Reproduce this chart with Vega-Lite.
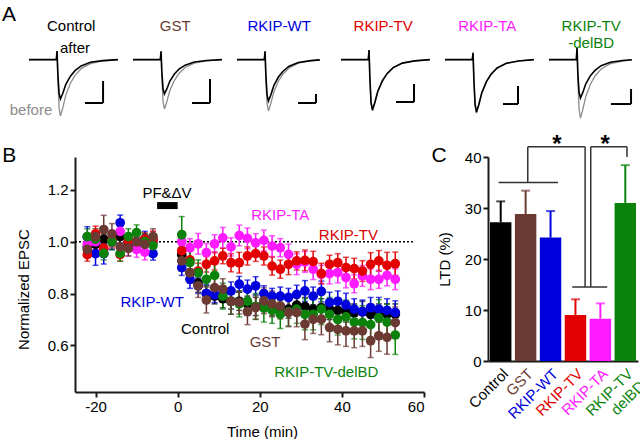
{
  "$schema": "https://vega.github.io/schema/vega-lite/v6.json",
  "padding": {"left": 2, "top": 3, "right": 0, "bottom": 0},
  "spacing": 12,
  "config": {
    "font": "Liberation Sans",
    "view": {"stroke": null},
    "legend": {"disable": true},
    "axis": {"grid": false, "domainColor": "#1a1a1a", "domainWidth": 2, "tickColor": "#1a1a1a", "tickWidth": 2, "tickSize": 5, "labelFontSize": 15, "labelColor": "#000000", "titleFontSize": 15, "titleFontWeight": "normal", "titleColor": "#000000", "labelFont": "Liberation Sans", "titleFont": "Liberation Sans"},
    "text": {"font": "Liberation Sans", "fontSize": 15}
  },
  "datasets": {
    "A": [
      {"c":"Control","k":"tr","s":"before","t":0,"v":0},{"c":"Control","k":"tr","s":"before","t":17.8,"v":0},{"c":"Control","k":"tr","s":"before","t":18.3,"v":0.154},{"c":"Control","k":"tr","s":"before","t":18.8,"v":-0.354},{"c":"Control","k":"tr","s":"before","t":19.6,"v":-0.859},{"c":"Control","k":"tr","s":"before","t":20.5,"v":-1.01},{"c":"Control","k":"tr","s":"before","t":22,"v":-0.869},{"c":"Control","k":"tr","s":"before","t":24,"v":-0.636},{"c":"Control","k":"tr","s":"before","t":27,"v":-0.424},{"c":"Control","k":"tr","s":"before","t":30,"v":-0.283},{"c":"Control","k":"tr","s":"before","t":34,"v":-0.162},{"c":"Control","k":"tr","s":"before","t":40,"v":-0.071},{"c":"Control","k":"tr","s":"before","t":48,"v":-0.025},{"c":"Control","k":"tr","s":"before","t":58,"v":0},
      {"c":"Control","k":"tr","s":"after","t":0,"v":0},{"c":"Control","k":"tr","s":"after","t":17.8,"v":0},{"c":"Control","k":"tr","s":"after","t":18.3,"v":0.154},{"c":"Control","k":"tr","s":"after","t":18.8,"v":-0.247},{"c":"Control","k":"tr","s":"after","t":19.6,"v":-0.6},{"c":"Control","k":"tr","s":"after","t":20.5,"v":-0.706},{"c":"Control","k":"tr","s":"after","t":22,"v":-0.607},{"c":"Control","k":"tr","s":"after","t":24,"v":-0.445},{"c":"Control","k":"tr","s":"after","t":27,"v":-0.297},{"c":"Control","k":"tr","s":"after","t":30,"v":-0.198},{"c":"Control","k":"tr","s":"after","t":34,"v":-0.113},{"c":"Control","k":"tr","s":"after","t":40,"v":-0.049},{"c":"Control","k":"tr","s":"after","t":48,"v":-0.018},{"c":"Control","k":"tr","s":"after","t":58,"v":0},
      {"c":"GST","k":"tr","s":"before","t":0,"v":0},{"c":"GST","k":"tr","s":"before","t":17.8,"v":0},{"c":"GST","k":"tr","s":"before","t":18.3,"v":0.15},{"c":"GST","k":"tr","s":"before","t":18.8,"v":-0.31},{"c":"GST","k":"tr","s":"before","t":19.6,"v":-0.752},{"c":"GST","k":"tr","s":"before","t":20.5,"v":-0.885},{"c":"GST","k":"tr","s":"before","t":22,"v":-0.761},{"c":"GST","k":"tr","s":"before","t":24,"v":-0.558},{"c":"GST","k":"tr","s":"before","t":27,"v":-0.372},{"c":"GST","k":"tr","s":"before","t":30,"v":-0.248},{"c":"GST","k":"tr","s":"before","t":34,"v":-0.142},{"c":"GST","k":"tr","s":"before","t":40,"v":-0.062},{"c":"GST","k":"tr","s":"before","t":48,"v":-0.022},{"c":"GST","k":"tr","s":"before","t":58,"v":0},
      {"c":"GST","k":"tr","s":"after","t":0,"v":0},{"c":"GST","k":"tr","s":"after","t":17.8,"v":0},{"c":"GST","k":"tr","s":"after","t":18.3,"v":0.15},{"c":"GST","k":"tr","s":"after","t":18.8,"v":-0.216},{"c":"GST","k":"tr","s":"after","t":19.6,"v":-0.524},{"c":"GST","k":"tr","s":"after","t":20.5,"v":-0.616},{"c":"GST","k":"tr","s":"after","t":22,"v":-0.53},{"c":"GST","k":"tr","s":"after","t":24,"v":-0.388},{"c":"GST","k":"tr","s":"after","t":27,"v":-0.259},{"c":"GST","k":"tr","s":"after","t":30,"v":-0.172},{"c":"GST","k":"tr","s":"after","t":34,"v":-0.099},{"c":"GST","k":"tr","s":"after","t":40,"v":-0.043},{"c":"GST","k":"tr","s":"after","t":48,"v":-0.015},{"c":"GST","k":"tr","s":"after","t":58,"v":0},
      {"c":"RKIP-WT","k":"tr","s":"before","t":0,"v":0},{"c":"RKIP-WT","k":"tr","s":"before","t":17.8,"v":0},{"c":"RKIP-WT","k":"tr","s":"before","t":18.3,"v":0.15},{"c":"RKIP-WT","k":"tr","s":"before","t":18.8,"v":-0.322},{"c":"RKIP-WT","k":"tr","s":"before","t":19.6,"v":-0.783},{"c":"RKIP-WT","k":"tr","s":"before","t":20.5,"v":-0.921},{"c":"RKIP-WT","k":"tr","s":"before","t":22,"v":-0.792},{"c":"RKIP-WT","k":"tr","s":"before","t":24,"v":-0.58},{"c":"RKIP-WT","k":"tr","s":"before","t":27,"v":-0.387},{"c":"RKIP-WT","k":"tr","s":"before","t":30,"v":-0.258},{"c":"RKIP-WT","k":"tr","s":"before","t":34,"v":-0.147},{"c":"RKIP-WT","k":"tr","s":"before","t":40,"v":-0.064},{"c":"RKIP-WT","k":"tr","s":"before","t":48,"v":-0.023},{"c":"RKIP-WT","k":"tr","s":"before","t":54,"v":-0.006},
      {"c":"RKIP-WT","k":"tr","s":"after","t":0,"v":0},{"c":"RKIP-WT","k":"tr","s":"after","t":17.8,"v":0},{"c":"RKIP-WT","k":"tr","s":"after","t":18.3,"v":0.15},{"c":"RKIP-WT","k":"tr","s":"after","t":18.8,"v":-0.26},{"c":"RKIP-WT","k":"tr","s":"after","t":19.6,"v":-0.631},{"c":"RKIP-WT","k":"tr","s":"after","t":20.5,"v":-0.742},{"c":"RKIP-WT","k":"tr","s":"after","t":22,"v":-0.638},{"c":"RKIP-WT","k":"tr","s":"after","t":24,"v":-0.467},{"c":"RKIP-WT","k":"tr","s":"after","t":27,"v":-0.312},{"c":"RKIP-WT","k":"tr","s":"after","t":30,"v":-0.208},{"c":"RKIP-WT","k":"tr","s":"after","t":34,"v":-0.119},{"c":"RKIP-WT","k":"tr","s":"after","t":40,"v":-0.052},{"c":"RKIP-WT","k":"tr","s":"after","t":48,"v":-0.019},{"c":"RKIP-WT","k":"tr","s":"after","t":54,"v":-0.005},
      {"c":"RKIP-TV","k":"tr","s":"before","t":0,"v":0},{"c":"RKIP-TV","k":"tr","s":"before","t":17.8,"v":0},{"c":"RKIP-TV","k":"tr","s":"before","t":18.3,"v":0.17},{"c":"RKIP-TV","k":"tr","s":"before","t":18.8,"v":-0.322},{"c":"RKIP-TV","k":"tr","s":"before","t":19.6,"v":-0.783},{"c":"RKIP-TV","k":"tr","s":"before","t":20.5,"v":-0.921},{"c":"RKIP-TV","k":"tr","s":"before","t":22,"v":-0.792},{"c":"RKIP-TV","k":"tr","s":"before","t":24,"v":-0.58},{"c":"RKIP-TV","k":"tr","s":"before","t":27,"v":-0.387},{"c":"RKIP-TV","k":"tr","s":"before","t":30,"v":-0.258},{"c":"RKIP-TV","k":"tr","s":"before","t":34,"v":-0.147},{"c":"RKIP-TV","k":"tr","s":"before","t":40,"v":-0.064},{"c":"RKIP-TV","k":"tr","s":"before","t":48,"v":-0.023},{"c":"RKIP-TV","k":"tr","s":"before","t":58,"v":0},
      {"c":"RKIP-TV","k":"tr","s":"after","t":0,"v":0},{"c":"RKIP-TV","k":"tr","s":"after","t":17.8,"v":0},{"c":"RKIP-TV","k":"tr","s":"after","t":18.3,"v":0.17},{"c":"RKIP-TV","k":"tr","s":"after","t":18.8,"v":-0.315},{"c":"RKIP-TV","k":"tr","s":"after","t":19.6,"v":-0.765},{"c":"RKIP-TV","k":"tr","s":"after","t":20.5,"v":-0.9},{"c":"RKIP-TV","k":"tr","s":"after","t":22,"v":-0.774},{"c":"RKIP-TV","k":"tr","s":"after","t":24,"v":-0.567},{"c":"RKIP-TV","k":"tr","s":"after","t":27,"v":-0.378},{"c":"RKIP-TV","k":"tr","s":"after","t":30,"v":-0.252},{"c":"RKIP-TV","k":"tr","s":"after","t":34,"v":-0.144},{"c":"RKIP-TV","k":"tr","s":"after","t":40,"v":-0.063},{"c":"RKIP-TV","k":"tr","s":"after","t":48,"v":-0.023},{"c":"RKIP-TV","k":"tr","s":"after","t":58,"v":0},
      {"c":"RKIP-TA","k":"tr","s":"before","t":0,"v":0},{"c":"RKIP-TA","k":"tr","s":"before","t":17.8,"v":0},{"c":"RKIP-TA","k":"tr","s":"before","t":18.3,"v":0.12},{"c":"RKIP-TA","k":"tr","s":"before","t":18.8,"v":-0.335},{"c":"RKIP-TA","k":"tr","s":"before","t":19.6,"v":-0.813},{"c":"RKIP-TA","k":"tr","s":"before","t":20.5,"v":-0.957},{"c":"RKIP-TA","k":"tr","s":"before","t":22,"v":-0.823},{"c":"RKIP-TA","k":"tr","s":"before","t":24,"v":-0.603},{"c":"RKIP-TA","k":"tr","s":"before","t":27,"v":-0.402},{"c":"RKIP-TA","k":"tr","s":"before","t":30,"v":-0.268},{"c":"RKIP-TA","k":"tr","s":"before","t":34,"v":-0.153},{"c":"RKIP-TA","k":"tr","s":"before","t":40,"v":-0.067},{"c":"RKIP-TA","k":"tr","s":"before","t":48,"v":-0.024},{"c":"RKIP-TA","k":"tr","s":"before","t":58,"v":0},
      {"c":"RKIP-TA","k":"tr","s":"after","t":0,"v":0},{"c":"RKIP-TA","k":"tr","s":"after","t":17.8,"v":0},{"c":"RKIP-TA","k":"tr","s":"after","t":18.3,"v":0.12},{"c":"RKIP-TA","k":"tr","s":"after","t":18.8,"v":-0.329},{"c":"RKIP-TA","k":"tr","s":"after","t":19.6,"v":-0.799},{"c":"RKIP-TA","k":"tr","s":"after","t":20.5,"v":-0.94},{"c":"RKIP-TA","k":"tr","s":"after","t":22,"v":-0.808},{"c":"RKIP-TA","k":"tr","s":"after","t":24,"v":-0.592},{"c":"RKIP-TA","k":"tr","s":"after","t":27,"v":-0.395},{"c":"RKIP-TA","k":"tr","s":"after","t":30,"v":-0.263},{"c":"RKIP-TA","k":"tr","s":"after","t":34,"v":-0.15},{"c":"RKIP-TA","k":"tr","s":"after","t":40,"v":-0.066},{"c":"RKIP-TA","k":"tr","s":"after","t":48,"v":-0.024},{"c":"RKIP-TA","k":"tr","s":"after","t":58,"v":0},
      {"c":"RKIP-TV-delBD","k":"tr","s":"before","t":0,"v":0},{"c":"RKIP-TV-delBD","k":"tr","s":"before","t":17.8,"v":0},{"c":"RKIP-TV-delBD","k":"tr","s":"before","t":18.3,"v":0.21},{"c":"RKIP-TV-delBD","k":"tr","s":"before","t":18.8,"v":-0.366},{"c":"RKIP-TV-delBD","k":"tr","s":"before","t":19.6,"v":-0.89},{"c":"RKIP-TV-delBD","k":"tr","s":"before","t":20.5,"v":-1.047},{"c":"RKIP-TV-delBD","k":"tr","s":"before","t":22,"v":-0.9},{"c":"RKIP-TV-delBD","k":"tr","s":"before","t":24,"v":-0.66},{"c":"RKIP-TV-delBD","k":"tr","s":"before","t":27,"v":-0.44},{"c":"RKIP-TV-delBD","k":"tr","s":"before","t":30,"v":-0.293},{"c":"RKIP-TV-delBD","k":"tr","s":"before","t":34,"v":-0.168},{"c":"RKIP-TV-delBD","k":"tr","s":"before","t":40,"v":-0.073},{"c":"RKIP-TV-delBD","k":"tr","s":"before","t":48,"v":-0.026},{"c":"RKIP-TV-delBD","k":"tr","s":"before","t":54,"v":-0.006},
      {"c":"RKIP-TV-delBD","k":"tr","s":"after","t":0,"v":0},{"c":"RKIP-TV-delBD","k":"tr","s":"after","t":17.8,"v":0},{"c":"RKIP-TV-delBD","k":"tr","s":"after","t":18.3,"v":0.21},{"c":"RKIP-TV-delBD","k":"tr","s":"after","t":18.8,"v":-0.241},{"c":"RKIP-TV-delBD","k":"tr","s":"after","t":19.6,"v":-0.585},{"c":"RKIP-TV-delBD","k":"tr","s":"after","t":20.5,"v":-0.688},{"c":"RKIP-TV-delBD","k":"tr","s":"after","t":22,"v":-0.592},{"c":"RKIP-TV-delBD","k":"tr","s":"after","t":24,"v":-0.433},{"c":"RKIP-TV-delBD","k":"tr","s":"after","t":27,"v":-0.289},{"c":"RKIP-TV-delBD","k":"tr","s":"after","t":30,"v":-0.193},{"c":"RKIP-TV-delBD","k":"tr","s":"after","t":34,"v":-0.11},{"c":"RKIP-TV-delBD","k":"tr","s":"after","t":40,"v":-0.048},{"c":"RKIP-TV-delBD","k":"tr","s":"after","t":48,"v":-0.017},{"c":"RKIP-TV-delBD","k":"tr","s":"after","t":54,"v":-0.004},
      {"c":"Control","k":"bar","t":48.3,"t2":48.3,"v":-0.384,"v2":-0.778},{"c":"Control","k":"bar","t":36.5,"t2":48.3,"v":-0.778,"v2":-0.778},
      {"c":"GST","k":"bar","t":50.2,"t2":50.2,"v":-0.348,"v2":-0.778},{"c":"GST","k":"bar","t":38.5,"t2":50.2,"v":-0.778,"v2":-0.778},
      {"c":"RKIP-WT","k":"bar","t":51.5,"t2":51.5,"v":-0.616,"v2":-0.778},{"c":"RKIP-WT","k":"bar","t":39.8,"t2":51.5,"v":-0.778,"v2":-0.778},
      {"c":"RKIP-TV","k":"bar","t":47.6,"t2":47.6,"v":-0.437,"v2":-0.76},{"c":"RKIP-TV","k":"bar","t":35.9,"t2":47.6,"v":-0.76,"v2":-0.76},
      {"c":"RKIP-TA","k":"bar","t":47.6,"t2":47.6,"v":-0.473,"v2":-0.796},{"c":"RKIP-TA","k":"bar","t":37.8,"t2":47.6,"v":-0.796,"v2":-0.796},
      {"c":"RKIP-TV-delBD","k":"bar","t":53.5,"t2":53.5,"v":-0.527,"v2":-0.796},{"c":"RKIP-TV-delBD","k":"bar","t":40.4,"t2":53.5,"v":-0.796,"v2":-0.796},
      {"c":"Control","k":"ti","label":"Control"},{"c":"GST","k":"ti","label":"GST"},{"c":"RKIP-WT","k":"ti","label":"RKIP-WT"},{"c":"RKIP-TV","k":"ti","label":"RKIP-TV"},{"c":"RKIP-TA","k":"ti","label":"RKIP-TA"},{"c":"RKIP-TV-delBD","k":"ti","label":"RKIP-TV\n-delBD"},
      {"c":"Control","k":"after","label":"after"},{"c":"Control","k":"before","label":"before"},{"c":"Control","k":"A","label":"A"}
    ],
    "B": [
      {"g":"Control","t":-22,"v":0.98,"se":0.02},{"g":"Control","t":-20,"v":0.99,"se":0.025},{"g":"Control","t":-18,"v":1.01,"se":0.02},{"g":"Control","t":-16,"v":1.0,"se":0.03},{"g":"Control","t":-14,"v":1.02,"se":0.025},{"g":"Control","t":-12,"v":0.99,"se":0.02},{"g":"Control","t":-10,"v":1.0,"se":0.03},{"g":"Control","t":-8,"v":1.01,"se":0.02},{"g":"Control","t":-6,"v":1.0,"se":0.025},
      {"g":"Control","t":1,"v":0.95,"se":0.03},{"g":"Control","t":3,"v":0.88,"se":0.03},{"g":"Control","t":5,"v":0.84,"se":0.035},{"g":"Control","t":7,"v":0.8,"se":0.03},{"g":"Control","t":9,"v":0.79,"se":0.03},{"g":"Control","t":11,"v":0.78,"se":0.035},{"g":"Control","t":13,"v":0.77,"se":0.03},{"g":"Control","t":15,"v":0.77,"se":0.035},{"g":"Control","t":17,"v":0.76,"se":0.03},{"g":"Control","t":19,"v":0.75,"se":0.035},{"g":"Control","t":21,"v":0.76,"se":0.03},{"g":"Control","t":23,"v":0.75,"se":0.035},{"g":"Control","t":25,"v":0.745,"se":0.03},{"g":"Control","t":27,"v":0.74,"se":0.035},{"g":"Control","t":29,"v":0.755,"se":0.03},{"g":"Control","t":31,"v":0.75,"se":0.035},{"g":"Control","t":33,"v":0.74,"se":0.04},{"g":"Control","t":35,"v":0.745,"se":0.035},{"g":"Control","t":37,"v":0.74,"se":0.04},{"g":"Control","t":39,"v":0.735,"se":0.035},{"g":"Control","t":41,"v":0.73,"se":0.04},{"g":"Control","t":43,"v":0.725,"se":0.035},{"g":"Control","t":45,"v":0.73,"se":0.04},{"g":"Control","t":47,"v":0.72,"se":0.04},{"g":"Control","t":49,"v":0.725,"se":0.035},{"g":"Control","t":51,"v":0.72,"se":0.04},{"g":"Control","t":53,"v":0.72,"se":0.04},
      {"g":"RKIP-WT","t":-22,"v":1.018,"se":0.04},{"g":"RKIP-WT","t":-20,"v":0.954,"se":0.045},{"g":"RKIP-WT","t":-18,"v":0.954,"se":0.04},{"g":"RKIP-WT","t":-16,"v":1.0,"se":0.03},{"g":"RKIP-WT","t":-14,"v":1.073,"se":0.03},{"g":"RKIP-WT","t":-12,"v":1.0,"se":0.03},{"g":"RKIP-WT","t":-10,"v":0.99,"se":0.03},{"g":"RKIP-WT","t":-8,"v":1.01,"se":0.03},{"g":"RKIP-WT","t":-6,"v":0.954,"se":0.025},
      {"g":"RKIP-WT","t":1,"v":0.9,"se":0.03},{"g":"RKIP-WT","t":3,"v":0.855,"se":0.035},{"g":"RKIP-WT","t":5,"v":0.83,"se":0.03},{"g":"RKIP-WT","t":7,"v":0.8,"se":0.035},{"g":"RKIP-WT","t":9,"v":0.795,"se":0.03},{"g":"RKIP-WT","t":11,"v":0.8,"se":0.03},{"g":"RKIP-WT","t":13,"v":0.81,"se":0.035},{"g":"RKIP-WT","t":15,"v":0.836,"se":0.03},{"g":"RKIP-WT","t":17,"v":0.817,"se":0.035},{"g":"RKIP-WT","t":19,"v":0.83,"se":0.035},{"g":"RKIP-WT","t":21,"v":0.8,"se":0.03},{"g":"RKIP-WT","t":23,"v":0.79,"se":0.03},{"g":"RKIP-WT","t":25,"v":0.79,"se":0.035},{"g":"RKIP-WT","t":27,"v":0.785,"se":0.035},{"g":"RKIP-WT","t":29,"v":0.797,"se":0.035},{"g":"RKIP-WT","t":31,"v":0.81,"se":0.04},{"g":"RKIP-WT","t":33,"v":0.79,"se":0.035},{"g":"RKIP-WT","t":35,"v":0.808,"se":0.04},{"g":"RKIP-WT","t":37,"v":0.765,"se":0.04},{"g":"RKIP-WT","t":39,"v":0.77,"se":0.04},{"g":"RKIP-WT","t":41,"v":0.756,"se":0.045},{"g":"RKIP-WT","t":43,"v":0.74,"se":0.04},{"g":"RKIP-WT","t":45,"v":0.73,"se":0.045},{"g":"RKIP-WT","t":47,"v":0.745,"se":0.04},{"g":"RKIP-WT","t":49,"v":0.74,"se":0.045},{"g":"RKIP-WT","t":51,"v":0.735,"se":0.045},{"g":"RKIP-WT","t":53,"v":0.727,"se":0.045},
      {"g":"RKIP-TA","t":-22,"v":0.99,"se":0.03},{"g":"RKIP-TA","t":-20,"v":1.0,"se":0.03},{"g":"RKIP-TA","t":-18,"v":0.97,"se":0.03},{"g":"RKIP-TA","t":-16,"v":1.0,"se":0.025},{"g":"RKIP-TA","t":-14,"v":1.04,"se":0.03},{"g":"RKIP-TA","t":-12,"v":0.975,"se":0.03},{"g":"RKIP-TA","t":-10,"v":0.97,"se":0.03},{"g":"RKIP-TA","t":-8,"v":0.96,"se":0.03},{"g":"RKIP-TA","t":-6,"v":1.005,"se":0.035},
      {"g":"RKIP-TA","t":1,"v":1.0,"se":0.04},{"g":"RKIP-TA","t":3,"v":0.977,"se":0.035},{"g":"RKIP-TA","t":5,"v":0.992,"se":0.04},{"g":"RKIP-TA","t":7,"v":0.958,"se":0.035},{"g":"RKIP-TA","t":9,"v":0.992,"se":0.035},{"g":"RKIP-TA","t":11,"v":1.015,"se":0.04},{"g":"RKIP-TA","t":13,"v":0.98,"se":0.035},{"g":"RKIP-TA","t":15,"v":1.024,"se":0.04},{"g":"RKIP-TA","t":17,"v":1.013,"se":0.04},{"g":"RKIP-TA","t":19,"v":0.996,"se":0.035},{"g":"RKIP-TA","t":21,"v":1.005,"se":0.04},{"g":"RKIP-TA","t":23,"v":0.983,"se":0.04},{"g":"RKIP-TA","t":25,"v":0.977,"se":0.035},{"g":"RKIP-TA","t":27,"v":0.951,"se":0.04},{"g":"RKIP-TA","t":29,"v":0.913,"se":0.04},{"g":"RKIP-TA","t":31,"v":0.922,"se":0.04},{"g":"RKIP-TA","t":33,"v":0.894,"se":0.04},{"g":"RKIP-TA","t":35,"v":0.874,"se":0.035},{"g":"RKIP-TA","t":37,"v":0.877,"se":0.04},{"g":"RKIP-TA","t":39,"v":0.881,"se":0.04},{"g":"RKIP-TA","t":41,"v":0.862,"se":0.04},{"g":"RKIP-TA","t":43,"v":0.838,"se":0.035},{"g":"RKIP-TA","t":45,"v":0.868,"se":0.04},{"g":"RKIP-TA","t":47,"v":0.855,"se":0.04},{"g":"RKIP-TA","t":49,"v":0.855,"se":0.035},{"g":"RKIP-TA","t":51,"v":0.87,"se":0.04},{"g":"RKIP-TA","t":53,"v":0.855,"se":0.04},
      {"g":"RKIP-TV","t":-22,"v":0.95,"se":0.025},{"g":"RKIP-TV","t":-20,"v":1.03,"se":0.03},{"g":"RKIP-TV","t":-18,"v":0.975,"se":0.03},{"g":"RKIP-TV","t":-16,"v":1.005,"se":0.025},{"g":"RKIP-TV","t":-14,"v":0.95,"se":0.025},{"g":"RKIP-TV","t":-12,"v":1.0,"se":0.02},{"g":"RKIP-TV","t":-10,"v":1.0,"se":0.02},{"g":"RKIP-TV","t":-8,"v":1.01,"se":0.025},{"g":"RKIP-TV","t":-6,"v":1.01,"se":0.03},
      {"g":"RKIP-TV","t":1,"v":0.965,"se":0.03},{"g":"RKIP-TV","t":3,"v":0.93,"se":0.035},{"g":"RKIP-TV","t":5,"v":0.887,"se":0.03},{"g":"RKIP-TV","t":7,"v":0.913,"se":0.03},{"g":"RKIP-TV","t":9,"v":0.926,"se":0.035},{"g":"RKIP-TV","t":11,"v":0.945,"se":0.03},{"g":"RKIP-TV","t":13,"v":0.919,"se":0.035},{"g":"RKIP-TV","t":15,"v":0.919,"se":0.04},{"g":"RKIP-TV","t":17,"v":0.945,"se":0.035},{"g":"RKIP-TV","t":19,"v":0.954,"se":0.03},{"g":"RKIP-TV","t":21,"v":0.945,"se":0.035},{"g":"RKIP-TV","t":23,"v":0.906,"se":0.035},{"g":"RKIP-TV","t":25,"v":0.894,"se":0.035},{"g":"RKIP-TV","t":27,"v":0.913,"se":0.04},{"g":"RKIP-TV","t":29,"v":0.926,"se":0.035},{"g":"RKIP-TV","t":31,"v":0.928,"se":0.04},{"g":"RKIP-TV","t":33,"v":0.923,"se":0.04},{"g":"RKIP-TV","t":35,"v":0.877,"se":0.04},{"g":"RKIP-TV","t":37,"v":0.913,"se":0.035},{"g":"RKIP-TV","t":39,"v":0.919,"se":0.035},{"g":"RKIP-TV","t":41,"v":0.9,"se":0.04},{"g":"RKIP-TV","t":43,"v":0.896,"se":0.04},{"g":"RKIP-TV","t":45,"v":0.887,"se":0.04},{"g":"RKIP-TV","t":47,"v":0.913,"se":0.045},{"g":"RKIP-TV","t":49,"v":0.926,"se":0.04},{"g":"RKIP-TV","t":51,"v":0.909,"se":0.05},{"g":"RKIP-TV","t":53,"v":0.915,"se":0.045},
      {"g":"RKIP-TV-delBD","t":-22,"v":1.02,"se":0.03},{"g":"RKIP-TV-delBD","t":-20,"v":1.01,"se":0.03},{"g":"RKIP-TV-delBD","t":-18,"v":0.955,"se":0.025},{"g":"RKIP-TV-delBD","t":-16,"v":1.0,"se":0.03},{"g":"RKIP-TV-delBD","t":-14,"v":0.955,"se":0.03},{"g":"RKIP-TV-delBD","t":-12,"v":1.02,"se":0.03},{"g":"RKIP-TV-delBD","t":-10,"v":1.035,"se":0.03},{"g":"RKIP-TV-delBD","t":-8,"v":1.0,"se":0.03},{"g":"RKIP-TV-delBD","t":-6,"v":0.985,"se":0.03},
      {"g":"RKIP-TV-delBD","t":1,"v":1.027,"se":0.07},{"g":"RKIP-TV-delBD","t":3,"v":0.92,"se":0.05},{"g":"RKIP-TV-delBD","t":5,"v":0.88,"se":0.05},{"g":"RKIP-TV-delBD","t":7,"v":0.855,"se":0.045},{"g":"RKIP-TV-delBD","t":9,"v":0.87,"se":0.045},{"g":"RKIP-TV-delBD","t":11,"v":0.79,"se":0.05},{"g":"RKIP-TV-delBD","t":13,"v":0.77,"se":0.05},{"g":"RKIP-TV-delBD","t":15,"v":0.76,"se":0.05},{"g":"RKIP-TV-delBD","t":17,"v":0.77,"se":0.05},{"g":"RKIP-TV-delBD","t":19,"v":0.75,"se":0.05},{"g":"RKIP-TV-delBD","t":21,"v":0.745,"se":0.055},{"g":"RKIP-TV-delBD","t":23,"v":0.735,"se":0.05},{"g":"RKIP-TV-delBD","t":25,"v":0.72,"se":0.055},{"g":"RKIP-TV-delBD","t":27,"v":0.73,"se":0.055},{"g":"RKIP-TV-delBD","t":29,"v":0.74,"se":0.055},{"g":"RKIP-TV-delBD","t":31,"v":0.72,"se":0.06},{"g":"RKIP-TV-delBD","t":33,"v":0.72,"se":0.06},{"g":"RKIP-TV-delBD","t":35,"v":0.74,"se":0.06},{"g":"RKIP-TV-delBD","t":37,"v":0.72,"se":0.065},{"g":"RKIP-TV-delBD","t":39,"v":0.7,"se":0.06},{"g":"RKIP-TV-delBD","t":41,"v":0.71,"se":0.065},{"g":"RKIP-TV-delBD","t":43,"v":0.69,"se":0.065},{"g":"RKIP-TV-delBD","t":45,"v":0.688,"se":0.065},{"g":"RKIP-TV-delBD","t":47,"v":0.68,"se":0.07},{"g":"RKIP-TV-delBD","t":49,"v":0.706,"se":0.07},{"g":"RKIP-TV-delBD","t":51,"v":0.69,"se":0.07},{"g":"RKIP-TV-delBD","t":53,"v":0.64,"se":0.075},
      {"g":"GST","t":-22,"v":0.97,"se":0.03},{"g":"GST","t":-20,"v":1.02,"se":0.03},{"g":"GST","t":-18,"v":1.047,"se":0.055},{"g":"GST","t":-16,"v":1.03,"se":0.04},{"g":"GST","t":-14,"v":0.98,"se":0.03},{"g":"GST","t":-12,"v":0.975,"se":0.03},{"g":"GST","t":-10,"v":1.0,"se":0.035},{"g":"GST","t":-8,"v":0.99,"se":0.03},{"g":"GST","t":-6,"v":1.02,"se":0.03},
      {"g":"GST","t":1,"v":0.926,"se":0.04},{"g":"GST","t":3,"v":0.88,"se":0.04},{"g":"GST","t":5,"v":0.83,"se":0.045},{"g":"GST","t":7,"v":0.775,"se":0.05},{"g":"GST","t":9,"v":0.823,"se":0.045},{"g":"GST","t":11,"v":0.817,"se":0.04},{"g":"GST","t":13,"v":0.77,"se":0.05},{"g":"GST","t":15,"v":0.766,"se":0.045},{"g":"GST","t":17,"v":0.73,"se":0.05},{"g":"GST","t":19,"v":0.746,"se":0.045},{"g":"GST","t":21,"v":0.772,"se":0.05},{"g":"GST","t":23,"v":0.76,"se":0.05},{"g":"GST","t":25,"v":0.752,"se":0.05},{"g":"GST","t":27,"v":0.727,"se":0.055},{"g":"GST","t":29,"v":0.727,"se":0.055},{"g":"GST","t":31,"v":0.682,"se":0.06},{"g":"GST","t":33,"v":0.701,"se":0.055},{"g":"GST","t":35,"v":0.701,"se":0.06},{"g":"GST","t":37,"v":0.669,"se":0.055},{"g":"GST","t":39,"v":0.662,"se":0.06},{"g":"GST","t":41,"v":0.656,"se":0.06},{"g":"GST","t":43,"v":0.656,"se":0.065},{"g":"GST","t":45,"v":0.656,"se":0.06},{"g":"GST","t":47,"v":0.618,"se":0.065},{"g":"GST","t":49,"v":0.637,"se":0.06},{"g":"GST","t":51,"v":0.631,"se":0.065},{"g":"GST","t":53,"v":0.688,"se":0.06}
    ],
    "C": [
      {"g":"Control","ltd":27.2,"hi":31.3},
      {"g":"GST","ltd":28.8,"hi":33.4},
      {"g":"RKIP-WT","ltd":24.2,"hi":29.4},
      {"g":"RKIP-TV","ltd":9.0,"hi":12.1},
      {"g":"RKIP-TA","ltd":8.3,"hi":11.3},
      {"g":"RKIP-TV-delBD","ltd":31.0,"hi":38.4}
    ],
    "one": [{}]
  },
  "vconcat": [
    {
      "data": {"name": "A"},
      "facet": {"column": {"field": "c", "type": "nominal", "sort": ["Control","GST","RKIP-WT","RKIP-TV","RKIP-TA","RKIP-TV-delBD"], "header": {"labels": false, "title": null}}},
      "spacing": 12,
      "bounds": "flush",
      "spec": {
        "width": 92,
        "height": 115,
        "layer": [
          {
            "transform": [{"filter": "datum.k === 'tr' && datum.s === 'before'"}],
            "mark": {"type": "line", "color": "#8c8c8c", "strokeWidth": 1.3},
            "encoding": {
              "x": {"field": "t", "type": "quantitative", "scale": {"domain": [30, 90], "nice": false, "zero": false}, "axis": null},
              "y": {"field": "v", "type": "quantitative", "scale": {"domain": [-1.1, 0.96], "nice": false, "zero": false}, "axis": null}
            }
          },
          {
            "transform": [{"filter": "datum.k === 'tr' && datum.s === 'after'"}],
            "mark": {"type": "line", "color": "#000000", "strokeWidth": 1.6},
            "encoding": {
              "x": {"field": "t", "type": "quantitative", "scale": {"domain": [30, 90], "nice": false, "zero": false}, "axis": null},
              "y": {"field": "v", "type": "quantitative", "scale": {"domain": [-1.1, 0.96], "nice": false, "zero": false}, "axis": null}
            }
          },
          {
            "transform": [{"filter": "datum.k === 'bar'"}],
            "mark": {"type": "rule", "color": "#000000", "strokeWidth": 2},
            "encoding": {
              "x": {"field": "t", "type": "quantitative", "scale": {"domain": [30, 90], "nice": false, "zero": false}, "axis": null},
              "x2": {"field": "t2"},
              "y": {"field": "v", "type": "quantitative", "scale": {"domain": [-1.1, 0.96], "nice": false, "zero": false}, "axis": null},
              "y2": {"field": "v2"}
            }
          },
          {
            "transform": [{"filter": "datum.k === 'ti'"}],
            "mark": {"type": "text", "fontSize": 15, "baseline": "middle", "lineBreak": "\n", "align": "center"},
            "encoding": {
              "x": {"datum": 27.5, "type": "quantitative", "scale": {"domain": [30, 90], "nice": false, "zero": false}, "axis": null},
              "y": {"datum": 0.6, "type": "quantitative", "scale": {"domain": [-1.1, 0.96], "nice": false, "zero": false}, "axis": null},
              "text": {"field": "label"},
              "color": {"field": "c", "type": "nominal", "scale": {"domain": ["Control","GST","RKIP-WT","RKIP-TV","RKIP-TA","RKIP-TV-delBD"], "range": ["#000000","#6b3b33","#0000dd","#e20000","#ff1aff","#0b830b"]}, "legend": null}
            }
          },
          {
            "transform": [{"filter": "datum.k === 'after'"}],
            "mark": {"type": "text", "fontSize": 15, "baseline": "middle", "color": "#000000"},
            "encoding": {"x": {"datum": 30, "type": "quantitative"}, "y": {"datum": 0.208, "type": "quantitative"}, "text": {"field": "label"}}
          },
          {
            "transform": [{"filter": "datum.k === 'before'"}],
            "mark": {"type": "text", "fontSize": 15, "baseline": "middle", "color": "#8c8c8c"},
            "encoding": {"x": {"datum": 1.3, "type": "quantitative"}, "y": {"datum": -0.905, "type": "quantitative"}, "text": {"field": "label"}}
          },
          {
            "transform": [{"filter": "datum.k === 'A'"}],
            "mark": {"type": "text", "fontSize": 21, "baseline": "middle", "align": "left", "color": "#000000"},
            "encoding": {"x": {"datum": -17.6, "type": "quantitative"}, "y": {"datum": 0.8, "type": "quantitative"}, "text": {"field": "label"}}
          }
        ]
      }
    },
    {
      "hconcat": [
        {
          "width": 349,
          "height": 235,
          "layer": [
            {
              "data": {"name": "one"},
              "mark": {"type": "rule", "strokeDash": [2, 2], "strokeWidth": 1.5, "color": "#000000"},
              "encoding": {"x": {"datum": -25, "type": "quantitative"}, "x2": {"datum": 57.3}, "y": {"datum": 1, "type": "quantitative"}}
            },
            {
              "data": {"name": "one"},
              "mark": {"type": "rect", "color": "#000000"},
              "encoding": {"x": {"datum": -5, "type": "quantitative"}, "x2": {"datum": 0}, "y": {"datum": 1.126, "type": "quantitative"}, "y2": {"datum": 1.153}}
            },
            {
              "data": {"name": "one"},
              "mark": {"type": "text", "text": "PF&ΔV", "fontSize": 15, "baseline": "middle", "color": "#000000"},
              "encoding": {"x": {"datum": -2.6, "type": "quantitative"}, "y": {"datum": 1.188, "type": "quantitative"}}
            },
            {
              "data": {"name": "B"},
              "mark": {"type": "errorbar", "ticks": {"thickness": 1.5}, "thickness": 1.5, "size": 6},
              "encoding": {
                "x": {"field": "t", "type": "quantitative", "title": "Time (min)"},
                "y": {"field": "v", "type": "quantitative", "title": "Normalized EPSC"},
                "yError": {"field": "se"},
                "color": {"field": "g", "type": "nominal", "scale": {"domain": ["Control","GST","RKIP-WT","RKIP-TV","RKIP-TA","RKIP-TV-delBD"], "range": ["#000000","#6b3b33","#0000dd","#e20000","#ff1aff","#0b830b"]}, "legend": null}
              }
            },
            {
              "data": {"name": "B"},
              "mark": {"type": "circle", "size": 95, "opacity": 1},
              "encoding": {
                "x": {"field": "t", "type": "quantitative", "title": "Time (min)", "scale": {"domain": [-25, 60], "nice": false}, "axis": {"values": [-20, 0, 20, 40, 60], "labelExpr": "'' + datum.value", "titlePadding": 10, "titleX": 187}},
                "y": {"field": "v", "type": "quantitative", "title": "Normalized EPSC", "scale": {"domain": [0.42, 1.327], "nice": false, "zero": false}, "axis": {"values": [0.6, 0.8, 1.0, 1.2], "format": ".1f", "titlePadding": 16, "titleY": 132}},
                "color": {"field": "g", "type": "nominal", "legend": null}
              }
            },
            {"data": {"name": "one"}, "mark": {"type": "text", "text": "RKIP-TA", "fontSize": 15, "baseline": "middle", "color": "#ff1aff"}, "encoding": {"x": {"datum": 25, "type": "quantitative"}, "y": {"datum": 1.103, "type": "quantitative"}}},
            {"data": {"name": "one"}, "mark": {"type": "text", "text": "RKIP-TV", "fontSize": 15, "baseline": "middle", "color": "#d80000"}, "encoding": {"x": {"datum": 41.6, "type": "quantitative"}, "y": {"datum": 1.026, "type": "quantitative"}}},
            {"data": {"name": "one"}, "mark": {"type": "text", "text": "RKIP-WT", "fontSize": 15, "baseline": "middle", "color": "#0000dd"}, "encoding": {"x": {"datum": -6.2, "type": "quantitative"}, "y": {"datum": 0.767, "type": "quantitative"}}},
            {"data": {"name": "one"}, "mark": {"type": "text", "text": "Control", "fontSize": 15, "baseline": "middle", "color": "#000000"}, "encoding": {"x": {"datum": 6.7, "type": "quantitative"}, "y": {"datum": 0.663, "type": "quantitative"}}},
            {"data": {"name": "one"}, "mark": {"type": "text", "text": "GST", "fontSize": 15, "baseline": "middle", "color": "#6b3b33"}, "encoding": {"x": {"datum": 21.3, "type": "quantitative"}, "y": {"datum": 0.613, "type": "quantitative"}}},
            {"data": {"name": "one"}, "mark": {"type": "text", "text": "RKIP-TV-delBD", "fontSize": 15, "baseline": "middle", "color": "#0b830b"}, "encoding": {"x": {"datum": 36.2, "type": "quantitative"}, "y": {"datum": 0.497, "type": "quantitative"}}},
            {"data": {"name": "one"}, "mark": {"type": "text", "text": "B", "fontSize": 21, "baseline": "middle", "align": "left", "color": "#000000"}, "encoding": {"x": {"datum": -42.7, "type": "quantitative"}, "y": {"datum": 1.331, "type": "quantitative"}}},
            {"data": {"name": "one"}, "mark": {"type": "text", "text": "C", "fontSize": 21, "baseline": "middle", "align": "center", "color": "#000000"}, "encoding": {"x": {"datum": 63.7, "type": "quantitative"}, "y": {"datum": 1.331, "type": "quantitative"}}}
          ]
        },
        {
          "width": 150,
          "height": 204,
          "layer": [
            {
              "data": {"name": "C"},
              "mark": {"type": "bar"},
              "encoding": {
                "x": {"field": "g", "type": "nominal", "sort": ["Control","GST","RKIP-WT","RKIP-TV","RKIP-TA","RKIP-TV-delBD"], "scale": {"paddingInner": 0.14, "paddingOuter": 0.08}, "title": null,
                  "axis": {"labelAngle": -45, "ticks": false, "labelPadding": 5, "labelExpr": "datum.value === 'RKIP-TV-delBD' ? ['RKIP-TV', 'delBD\u00a0\u00a0\u00a0\u00a0'] : datum.value",
                    "labelColor": {"condition": [{"test": "datum.value === 'GST'", "value": "#6b3b33"}, {"test": "datum.value === 'RKIP-WT'", "value": "#0000dd"}, {"test": "datum.value === 'RKIP-TV'", "value": "#e20000"}, {"test": "datum.value === 'RKIP-TA'", "value": "#ff1aff"}, {"test": "datum.value === 'RKIP-TV-delBD'", "value": "#0b830b"}], "value": "#000000"}}},
                "y": {"field": "ltd", "type": "quantitative", "title": "LTD (%)", "scale": {"domain": [0, 40]}, "axis": {"values": [0, 10, 20, 30, 40], "titlePadding": 12}},
                "color": {"field": "g", "type": "nominal", "scale": {"domain": ["Control","GST","RKIP-WT","RKIP-TV","RKIP-TA","RKIP-TV-delBD"], "range": ["#000000","#6b3b33","#0000dd","#e20000","#ff1aff","#0b830b"]}, "legend": null}
              }
            },
            {
              "data": {"name": "C"},
              "mark": {"type": "rule", "strokeWidth": 2},
              "encoding": {"x": {"field": "g", "type": "nominal", "sort": ["Control","GST","RKIP-WT","RKIP-TV","RKIP-TA","RKIP-TV-delBD"]}, "y": {"field": "ltd", "type": "quantitative"}, "y2": {"field": "hi"}, "color": {"field": "g", "type": "nominal", "legend": null}}
            },
            {
              "data": {"name": "C"},
              "mark": {"type": "tick", "size": 9, "thickness": 2},
              "encoding": {"x": {"field": "g", "type": "nominal", "sort": ["Control","GST","RKIP-WT","RKIP-TV","RKIP-TA","RKIP-TV-delBD"]}, "y": {"field": "hi", "type": "quantitative"}, "color": {"field": "g", "type": "nominal", "legend": null}}
            },
            {"data": {"name": "one"}, "mark": {"type": "rule", "strokeWidth": 1.5, "color": "#333333"}, "encoding": {"x": {"datum": "Control", "type": "nominal", "bandPosition": 0.4}, "x2": {"datum": "RKIP-WT", "bandPosition": 0.85}, "y": {"datum": 35, "type": "quantitative"}}},
            {"data": {"name": "one"}, "mark": {"type": "rule", "strokeWidth": 1.5, "color": "#333333"}, "encoding": {"x": {"datum": "GST", "type": "nominal", "bandPosition": 0.6}, "y": {"datum": 35, "type": "quantitative"}, "y2": {"datum": 42}}},
            {"data": {"name": "one"}, "mark": {"type": "rule", "strokeWidth": 1.5, "color": "#333333"}, "encoding": {"x": {"datum": "GST", "type": "nominal", "bandPosition": 0.6}, "x2": {"datum": "RKIP-TV", "bandPosition": 0.95}, "y": {"datum": 42, "type": "quantitative"}}},
            {"data": {"name": "one"}, "mark": {"type": "rule", "strokeWidth": 1.5, "color": "#333333"}, "encoding": {"x": {"datum": "RKIP-TV", "type": "nominal", "bandPosition": 0.95}, "y": {"datum": 14.5, "type": "quantitative"}, "y2": {"datum": 42}}},
            {"data": {"name": "one"}, "mark": {"type": "rule", "strokeWidth": 1.5, "color": "#333333"}, "encoding": {"x": {"datum": "RKIP-TV", "type": "nominal", "bandPosition": 0.35}, "x2": {"datum": "RKIP-TA", "bandPosition": 0.82}, "y": {"datum": 14.5, "type": "quantitative"}}},
            {"data": {"name": "one"}, "mark": {"type": "rule", "strokeWidth": 1.5, "color": "#333333"}, "encoding": {"x": {"datum": "RKIP-TA", "type": "nominal", "bandPosition": 0.05}, "y": {"datum": 14.5, "type": "quantitative"}, "y2": {"datum": 42}}},
            {"data": {"name": "one"}, "mark": {"type": "rule", "strokeWidth": 1.5, "color": "#333333"}, "encoding": {"x": {"datum": "RKIP-TA", "type": "nominal", "bandPosition": 0.05}, "x2": {"datum": "RKIP-TV-delBD", "bandPosition": 0.58}, "y": {"datum": 42, "type": "quantitative"}}},
            {"data": {"name": "one"}, "mark": {"type": "rule", "strokeWidth": 1.5, "color": "#333333"}, "encoding": {"x": {"datum": "RKIP-TV-delBD", "type": "nominal", "bandPosition": 0.58}, "y": {"datum": 40, "type": "quantitative"}, "y2": {"datum": 42}}},
            {"data": {"name": "one"}, "mark": {"type": "text", "text": "*", "fontSize": 24, "fontWeight": "bold", "baseline": "middle", "color": "#000000"}, "encoding": {"x": {"datum": "RKIP-WT", "type": "nominal", "bandPosition": 0.8}, "y": {"datum": 42.3, "type": "quantitative"}}},
            {"data": {"name": "one"}, "mark": {"type": "text", "text": "*", "fontSize": 24, "fontWeight": "bold", "baseline": "middle", "color": "#000000"}, "encoding": {"x": {"datum": "RKIP-TA", "type": "nominal", "bandPosition": 0.72}, "y": {"datum": 42.3, "type": "quantitative"}}}
          ]
        }
      ],
      "spacing": 64,
      "bounds": "flush"
    }
  ]
}
